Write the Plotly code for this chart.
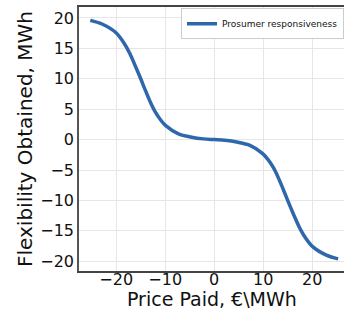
import plotly.graph_objects as go

price = [-25.3, -22.9, -20.1, -18.2, -17.2, -16.1, -15.0, -14.0, -13.0, -12.0, -11.0, -9.9, -7.3, -4.6, -2.2, 0.0,
         2.2, 4.6, 7.3, 9.9, 11.0, 12.0, 13.0, 14.0, 15.0, 16.1, 17.2, 18.2, 20.1, 22.9, 25.3]
flex = [19.6, 19.0, 17.6, 15.6, 14.1, 12.1, 10.0, 8.0, 6.1, 4.5, 3.3, 2.3, 0.95, 0.4, 0.12, 0.0,
        -0.12, -0.4, -0.95, -2.3, -3.3, -4.5, -6.1, -8.0, -10.0, -12.1, -14.1, -15.6, -17.6, -19.0, -19.6]
series_name = "Prosumer responsiveness"
x_ticks = [-20, -10, 0, 10, 20]
y_ticks = [-20, -15, -10, -5, 0, 5, 10, 15, 20]
x_title = "Price Paid, €\\MWh"
y_title = "Flexibility Obtained, MWh"

font = "DejaVu Sans"
fig = go.Figure()
fig.add_trace(go.Scatter(x=price, y=flex, mode="lines", name=series_name,
                         line=dict(color="#2f67ab", width=3.5, shape="spline", smoothing=1.0)))

fig.update_layout(
    width=344, height=309,
    margin=dict(l=79, r=0, t=7, b=38, autoexpand=False),
    paper_bgcolor="white", plot_bgcolor="white",
    font=dict(family=font, color="#111"),
    showlegend=True,
    legend=dict(x=1, y=0.995, xanchor="right", yanchor="top",
                bgcolor="white", bordercolor="#cccccc", borderwidth=1,
                font=dict(size=9, family=font, color="#111"),
                itemwidth=30, tracegroupgap=0),
    annotations=[
        dict(text=x_title, x=0.5, y=0, xref="paper", yref="paper", xanchor="center",
             yanchor="middle", yshift=-27.5, showarrow=False, font=dict(size=19, family=font, color="#111")),
        dict(text=y_title, x=0, y=0.5, xref="paper", yref="paper", xanchor="center",
             yanchor="middle", xshift=-54, textangle=-90, showarrow=False,
             font=dict(size=20, family=font, color="#111")),
    ],
)
fig.update_xaxes(range=[-27.6, 26.5], tickvals=x_ticks, showgrid=True, gridcolor="#e6e6e6",
                 zeroline=False, showline=True, linecolor="#444", linewidth=1.5, mirror=True,
                 ticks="", tickfont=dict(size=16, family=font), automargin=False,
                 ticklabelstandoff=-7)
fig.update_yaxes(range=[-21.6, 21.8], tickvals=y_ticks, showgrid=True, gridcolor="#e6e6e6",
                 zeroline=False, showline=True, linecolor="#555", linewidth=1.5,
                 ticks="", tickfont=dict(size=16, family=font), automargin=False)

fig.write_html("out.html", config={"displayModeBar": False},
               post_script="document.body.style.margin='0';document.body.style.overflow='hidden';")
